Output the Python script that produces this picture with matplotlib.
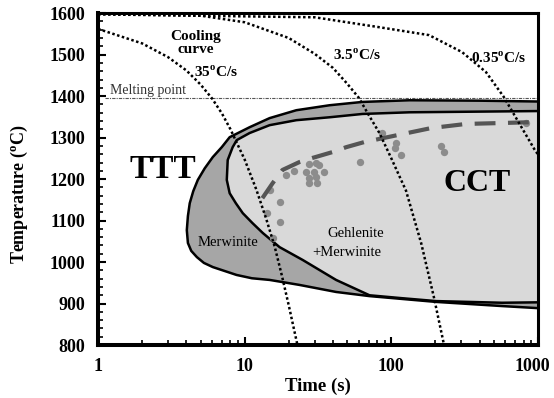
import matplotlib
matplotlib.use("Agg")
import matplotlib.pyplot as plt
from matplotlib.ticker import FixedLocator, FuncFormatter, LogLocator, MultipleLocator
from matplotlib.transforms import ScaledTranslation

plt.rcParams["font.family"] = "Liberation Serif"
plt.rcParams["mathtext.fontset"] = "custom"
plt.rcParams["mathtext.rm"] = "Liberation Serif"
plt.rcParams["mathtext.bf"] = "Liberation Serif:bold"

# TTT (merwinite) region boundary, from upper right round the nose to lower right
ttt_time = [1000, 400, 133, 63.5, 37.9, 22.5, 14.8, 10.8, 7.9, 6.98, 6.06, 5.34, 4.79,
            4.46, 4.22, 4.10, 4.03, 4.10, 4.32, 4.72, 5.27, 6.06, 8.8, 11.2, 14.8, 23.6,
            42, 71, 202, 569, 1000]
ttt_temp = [1387, 1389, 1390, 1386, 1378, 1366, 1347, 1325, 1301, 1277, 1253, 1226, 1198,
            1171, 1142, 1111, 1077, 1046, 1027, 1012, 998, 988, 969, 961, 957, 945,
            928, 918, 904, 894, 889]

# CCT (gehlenite + merwinite) region boundary
cct_time = [1000, 133, 63.5, 37.9, 22.5, 14.8, 10.8, 8.83, 8.28, 7.66, 7.55, 7.9,
            8.7, 9.7, 11.3, 13.3, 17.3, 24.9, 42, 71, 118, 202, 569, 1000]
cct_temp = [1364, 1361, 1357, 1349, 1342, 1330, 1311, 1294, 1277, 1246, 1198, 1166,
            1142, 1118, 1094, 1070, 1036, 1005, 957, 920, 913, 906, 902, 903]

# cooling curves
cool35_time = [1, 2, 3, 4, 5, 6, 7, 8, 10, 12, 14, 16, 18, 20, 22.9]
cool35_temp = [1562, 1527, 1494, 1462, 1428, 1394, 1358, 1320, 1247, 1175, 1105, 1038, 965, 895, 800]
cool3_5_time = [1, 5, 10, 20, 30, 40, 50, 60, 70, 83, 100, 126, 160, 195, 229]
cool3_5_temp = [1598, 1594, 1578, 1540, 1502, 1468, 1430, 1396, 1355, 1311, 1250, 1172, 1045, 916, 800]
cool0_35_time = [1, 30, 83, 181, 304, 442, 585, 738, 960, 1000]
cool0_35_temp = [1597, 1590, 1566, 1547, 1506, 1458, 1398, 1337, 1268, 1260]

melting_point = 1396

# measured crystallisation onset
onset_time = [19.0, 21.8, 27.6, 30.8, 32.3, 26.3, 29.9, 34.9, 27.6, 30.8, 27.6, 31.3,
              14.8, 17.3, 14.3, 17.3, 15.5, 61.5, 86.9, 108, 106, 117, 218, 227, 826]
onset_temp = [1210, 1219, 1236, 1239, 1234, 1217, 1217, 1217, 1202, 1205, 1190, 1190,
              1173, 1145, 1118, 1096, 1058, 1241, 1311, 1287, 1275, 1258, 1280, 1265, 1335]

# CCT nose fit
fit_time = [13.2, 15.5, 18.1, 23.6, 29, 39.6, 49.3, 65, 110, 187, 324, 543, 869]
fit_temp = [1154, 1190, 1222, 1241, 1251, 1265, 1277, 1289, 1306, 1323, 1333, 1335, 1337]

fig = plt.figure(figsize=(5.54, 3.98), dpi=100)
ax = fig.add_axes([0.177, 0.133, 0.794, 0.834])

ax.fill(ttt_time, ttt_temp, color="#a6a6a6", lw=0, zorder=1)
ax.plot(ttt_time, ttt_temp, color="black", lw=1.8, zorder=2, solid_joinstyle="round")
ax.fill(cct_time, cct_temp, color="#d9d9d9", lw=0, zorder=1.5)
ax.plot(cct_time, cct_temp, color="black", lw=1.8, zorder=2, solid_joinstyle="round")

ax.scatter(onset_time, onset_temp, s=28, color="#8c8c8c", lw=0, zorder=3)
ax.plot(fit_time, fit_temp, color="#555555", lw=3, ls=(0, (5, 3)),
        dash_capstyle="butt", zorder=4)

ax.plot([1.12, 1000], [melting_point, melting_point], color="#555555", lw=0.8,
        ls=(0, (3, 1, 1, 1)), zorder=2)

for t, T in [(cool35_time, cool35_temp), (cool3_5_time, cool3_5_temp),
             (cool0_35_time, cool0_35_temp)]:
    ax.plot(t, T, color="black", lw=1.8, ls=(0, (1, 1)), zorder=5)

ax.set_xscale("log")
ax.set_xlim(1, 1000)
ax.set_ylim(800, 1600)

ax.xaxis.set_major_locator(FixedLocator([1, 10, 100, 1000]))
ax.xaxis.set_minor_locator(LogLocator(base=10, subs=range(2, 10)))
ax.xaxis.set_major_formatter(FuncFormatter(lambda v, p: f"{v:g}"))
ax.xaxis.set_minor_formatter(FuncFormatter(lambda v, p: ""))
ax.yaxis.set_major_locator(MultipleLocator(100))
ax.yaxis.set_minor_locator(MultipleLocator(20))

ax.tick_params(which="both", direction="in", top=False, right=False)
ax.tick_params(which="major", length=6, width=1.5, pad=9, labelsize=13)
ax.tick_params(which="minor", length=3.5, width=1.2)
for lab in ax.get_xticklabels() + ax.get_yticklabels():
    lab.set_fontweight("bold")

# keep the last time label inside the figure
last = ax.xaxis.get_major_ticks()[-1].label1
last.set_transform(last.get_transform() + ScaledTranslation(-4 / 72, 0, fig.dpi_scale_trans))

for side in ["left", "bottom"]:
    ax.spines[side].set_linewidth(2.9)
for side in ["top", "right"]:
    ax.spines[side].set_linewidth(2.2)

ax.set_xlabel("Time (s)", fontsize=13.5, fontweight="bold", labelpad=2)
ax.set_ylabel(r"Temperature ($^{\mathbf{o}}$C)", fontsize=13, fontweight="bold")
ax.yaxis.set_label_coords(-0.155, 0.455)

bold = dict(fontsize=11, fontweight="bold", ha="center", va="center", zorder=6)
ax.text(4.64, 1529, "Cooling\ncurve", linespacing=1.0, **bold)
ax.text(6.35, 1458, r"35$^{\mathbf{o}}$C/s", **bold)
ax.text(58.5, 1499, r"3.5$^{\mathbf{o}}$C/s", **bold)
ax.text(540, 1492, r"0.35$^{\mathbf{o}}$C/s", **bold)

ax.text(1.21, 1414, "Melting point", fontsize=10, color="#333333", ha="left", va="center", zorder=6)
ax.text(1.65, 1224, "TTT", fontsize=24, fontweight="bold", ha="left", va="center", zorder=6)
ax.text(385, 1190, "CCT", fontsize=23, fontweight="bold", ha="center", va="center", zorder=6)
ax.text(7.66, 1046, "Merwinite", fontsize=10.5, ha="center", va="center", zorder=6)
ax.text(56.9, 1070, "Gehlenite", fontsize=10.5, ha="center", va="center", zorder=6)
ax.text(49.4, 1024, "+Merwinite", fontsize=10.5, ha="center", va="center", zorder=6)

fig.savefig("out.png", dpi=100)
